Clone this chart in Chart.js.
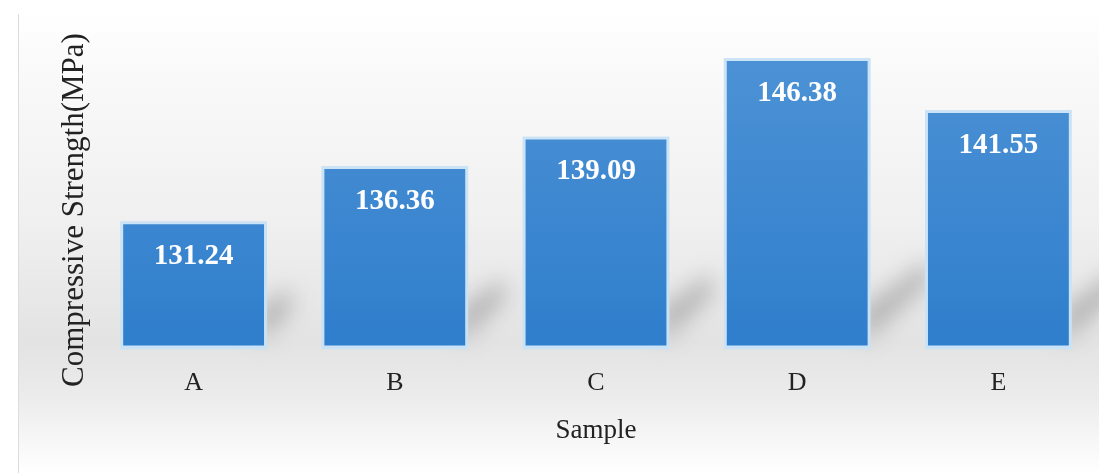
<!DOCTYPE html>
<html>
<head>
<meta charset="utf-8">
<script src="https://cdn.jsdelivr.net/npm/chart.js@4/dist/chart.umd.min.js"></script>
<style>
  html, body { margin: 0; padding: 0; background: #ffffff; }
  #wrap { width: 1099px; height: 473px; position: relative; }
</style>
</head>
<body>
<div id="wrap"><canvas id="c" width="1099" height="473"></canvas></div>
<script>
const categories = ['A', 'B', 'C', 'D', 'E'];
const strengthValues = [131.24, 136.36, 139.09, 146.38, 141.55];
const xTitle = 'Sample';
const yTitle = 'Compressive Strength(MPa)';

const serif = '"Liberation Serif", "Times New Roman", serif';

const backgroundPlugin = {
  id: 'bg',
  beforeDraw(chart) {
    const ctx = chart.ctx;
    const w = chart.width, h = chart.height;
    ctx.save();
    ctx.fillStyle = '#ffffff';
    ctx.fillRect(0, 0, w, h);
    const g = ctx.createLinearGradient(0, 10, 0, h);
    g.addColorStop(0, '#ffffff');
    g.addColorStop(0.12, '#fafafa');
    g.addColorStop(0.45, '#f0f0f0');
    g.addColorStop(0.72, '#e3e3e3');
    g.addColorStop(0.84, '#ececec');
    g.addColorStop(1, '#ffffff');
    ctx.fillStyle = g;
    ctx.fillRect(18, 10, w - 18, h - 10);
    ctx.strokeStyle = '#dcdcdc';
    ctx.lineWidth = 1;
    ctx.beginPath();
    ctx.moveTo(18.5, 14);
    ctx.lineTo(18.5, h);
    ctx.stroke();
    ctx.restore();
  }
};

const barDecorPlugin = {
  id: 'barDecor',
  beforeDatasetsDraw(chart) {
    const ctx = chart.ctx;
    const meta = chart.getDatasetMeta(0);
    const bottom = chart.chartArea.bottom;
    ctx.save();
    meta.data.forEach((bar) => {
      const right = bar.x + bar.width / 2;
      const hgt = bottom - bar.y;
      const len = hgt * 0.22;
      // soft shadow to the right of the bar foot
      ctx.save();
      ctx.filter = 'blur(11px)';
      ctx.fillStyle = 'rgba(70,70,70,0.32)';
      ctx.beginPath();
      ctx.moveTo(right - 6, bottom - 2);
      ctx.lineTo(right - 6, bottom - 36);
      ctx.lineTo(right + len, bottom - 36 - len * 0.8);
      ctx.lineTo(right + len, bottom - 14 - len * 0.8);
      ctx.closePath();
      ctx.fill();
      ctx.restore();
      // light glow outline
      const left = bar.x - bar.width / 2;
      ctx.fillStyle = 'rgba(200,225,246,0.95)';
      ctx.fillRect(left - 3, bar.y - 3, bar.width + 6, bottom - bar.y + 7);
    });
    ctx.restore();
  },
  afterDatasetsDraw(chart) {
    const ctx = chart.ctx;
    const meta = chart.getDatasetMeta(0);
    ctx.save();
    ctx.font = 'bold 29px ' + serif;
    ctx.fillStyle = '#ffffff';
    ctx.textAlign = 'center';
    ctx.textBaseline = 'middle';
    meta.data.forEach((bar, i) => {
      ctx.fillText(strengthValues[i].toFixed(2), bar.x, bar.y + 32);
    });
    ctx.restore();
  },
  afterDraw(chart) {
    const ctx = chart.ctx;
    ctx.save();
    ctx.translate(75, 210);
    ctx.rotate(-Math.PI / 2);
    ctx.font = '31px ' + serif;
    ctx.fillStyle = '#222';
    ctx.textAlign = 'center';
    ctx.textBaseline = 'middle';
    ctx.fillText(yTitle, 0, 0);
    ctx.restore();
  }
};

const ctx = document.getElementById('c').getContext('2d');
new Chart(ctx, {
  type: 'bar',
  data: {
    labels: categories,
    datasets: [{
      data: strengthValues,
      backgroundColor: (context) => {
        const chart = context.chart;
        const area = chart.chartArea;
        if (!area) return '#3f88d1';
        const g = chart.ctx.createLinearGradient(0, area.top, 0, area.bottom);
        g.addColorStop(0, '#5094d6');
        g.addColorStop(1, '#2f7ecc');
        return g;
      },
      borderWidth: 0,
      barPercentage: 0.70,
      categoryPercentage: 1.0
    }]
  },
  options: {
    responsive: false,
    animation: false,
    layout: { padding: { left: 93, right: 0, top: 22, bottom: 26 } },
    plugins: {
      legend: { display: false },
      tooltip: { enabled: false }
    },
    scales: {
      x: {
        grid: { display: false, drawTicks: false },
        border: { display: false },
        ticks: { color: '#222', font: { family: serif, size: 26 }, padding: 22 },
        title: { display: true, text: xTitle, color: '#222', font: { family: serif, size: 27 }, padding: { top: -6, bottom: 0 } }
      },
      y: {
        display: false,
        min: 120,
        max: 150
      }
    }
  },
  plugins: [backgroundPlugin, barDecorPlugin]
});
</script>
</body>
</html>
